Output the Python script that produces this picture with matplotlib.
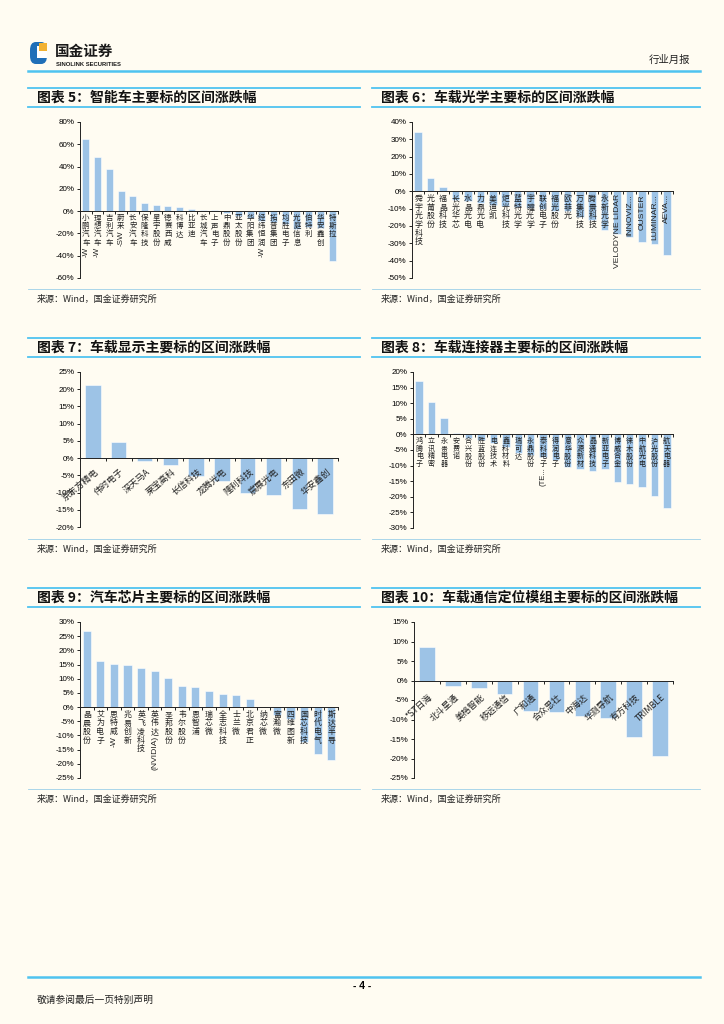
import numpy as np
import matplotlib
matplotlib.use('Agg')
import matplotlib.pyplot as plt
from matplotlib.patches import FancyBboxPatch, Rectangle

plt.rcParams['font.family'] = ['Noto Sans CJK SC', 'DejaVu Sans']

# ---- data (percent) ----
c5_names = ['小鹏汽车-W', '理想汽车-W', '吉利汽车', '蔚来-SW', '长安汽车', '保隆科技', '星宇股份',
            '德赛西威', '科博达', '比亚迪', '长城汽车', '上声电子', '中鼎股份', '亚太股份', '华阳集团',
            '经纬恒润-W', '拓普集团', '均胜电子', '光庭信息', '伯特利', '华安鑫创', '特斯拉']
c5_vals = [64.4, 49.0, 38.0, 17.7, 13.2, 7.5, 5.7, 4.2, 3.3, 1.5, 0.9, 0.6, -1.5, -4.8, -6.0,
           -8.4, -9.3, -11.4, -16.0, -14.0, -15.0, -45.0]

c6_names = ['舜宇光学科技', '光莆股份', '福晶科技', '长光华芯', '水晶光电', '力鼎光电', '美迪凯',
            '炬光科技', '蓝特光学', '宇瞳光学', '联创电子', '福光股份', '欧菲光', '万集科技', '腾景科技',
            '永新光学', 'VELODYNE LIDAR', 'INNOVIZ...', 'OUSTER', 'LUMINAR...', 'AEVA...']
c6_vals = [34.2, 7.7, 2.7, -5.0, -5.8, -7.0, -8.0, -8.7, -9.3, -9.7, -10.2, -11.2, -11.6, -15.0,
           -16.6, -22.4, -24.7, -26.3, -29.5, -30.5, -36.7]

c7_names = ['京东方精电', '伟时电子', '深天马A', '莱宝高科', '长信科技', '龙腾光电', '隆利科技',
            '宸展光电', '东田微', '华安鑫创']
c7_vals = [21.2, 4.8, -0.7, -1.9, -5.1, -6.5, -10.1, -10.7, -14.9, -16.2]

c8_names = ['鸿腾电子', '立讯精密', '永贵电器', '安费诺', '合兴股份', '胜蓝股份', '电连技术', '鑫科材料',
            '瑞可达', '永鼎股份', '泰科电子(TE...', '得润电子', '意华股份', '众源新材', '晶通科技',
            '新亚电子', '博威合金', '徕木股份', '中航光电', '沪光股份', '航天电器']
c8_vals = [17.0, 10.3, 5.4, 0.3, -1.1, -1.9, -2.6, -4.0, -6.1, -6.5, -7.2, -8.3, -10.4, -11.0,
           -11.8, -11.2, -15.3, -15.8, -16.7, -19.6, -23.5]

c9_names = ['晶晨股份', '艾为电子', '思特威-W', '兆易创新', '英飞凌科技', '英伟达(NVIDIA)', '圣邦股份',
            '韦尔股份', '恩智浦', '瑞芯微', '全志科技', '士兰微', '北京君正', '纳芯微', '富瀚微',
            '四维图新', '国芯科技', '时代电气', '斯达半导']
c9_vals = [26.7, 16.3, 15.2, 14.9, 13.7, 12.7, 10.2, 7.6, 7.0, 5.5, 4.6, 4.3, 2.7, -0.1, -2.8,
           -4.3, -12.3, -16.4, -18.5]

c10_names = ['*ST日海', '北斗星通', '美格智能', '移远通信', '广和通', '合众思壮', '中海达', '华测导航',
             '有方科技', 'TRIMBLE']
c10_vals = [8.7, -1.5, -2.0, -3.5, -7.7, -8.0, -9.1, -9.5, -14.4, -19.4]

titles = ['图表 5：智能车主要标的区间涨跌幅', '图表 6：车载光学主要标的区间涨跌幅',
          '图表 7：车载显示主要标的区间涨跌幅', '图表 8：车载连接器主要标的区间涨跌幅',
          '图表 9：汽车芯片主要标的区间涨跌幅', '图表 10：车载通信定位模组主要标的区间涨跌幅']

W, H = 724, 1024
BG = '#FFFCF2'
BAR = '#9DC3E6'
LINE = '#4FC3F0'
EN = ['Liberation Sans', 'Noto Sans CJK SC']

fig = plt.figure(figsize=(W / 100, H / 100), dpi=100, facecolor=BG)


def fx(x):
    return x / W


def fy(y):
    return 1 - y / H


def hline(y, x0, x1, color=LINE, lw=1.4):
    fig.add_artist(plt.Line2D([fx(x0), fx(x1)], [fy(y), fy(y)], color=color, lw=lw))


def make_ax(l, r, t, b):
    ax = fig.add_axes([fx(l), fy(b), (r - l) / W, (b - t) / H])
    ax.set_facecolor('none')
    return ax


def bars(ax, vals, lo, hi, step):
    n = len(vals)
    ax.bar(np.arange(n), vals, width=0.6, color=BAR, edgecolor='white', linewidth=0.4, zorder=2)
    ax.set_xlim(-0.5, n - 0.5)
    ax.set_ylim(lo, hi)
    ticks = np.arange(lo, hi + step / 2, step)
    ax.set_yticks(ticks)
    ax.set_yticklabels(['%d%%' % t for t in ticks], fontfamily=EN, fontsize=5.8)
    ax.spines['top'].set_visible(False)
    ax.spines['right'].set_visible(False)
    ax.spines['bottom'].set_position(('data', 0))
    for s in ['left', 'bottom']:
        ax.spines[s].set_linewidth(0.7)
        ax.spines[s].set_color('#222222')
    ax.set_xticks([])
    ax.set_xticks(np.arange(-0.5, n), minor=True)
    ax.tick_params(axis='x', which='minor', length=2, width=0.6, direction='out')
    ax.tick_params(axis='y', length=2.5, width=0.6, direction='out', pad=1.5)


def vlabels(ax, names, fs, step, top=2.0):
    for i, name in enumerate(names):
        k = 0
        while k < len(name) and ord(name[k]) > 0x2000:
            k += 1
        head, tail = name[:k], name[k:]
        if len(tail) == 1:
            head, tail = name, ''
        for j, ch in enumerate(head):
            ax.annotate(ch, (i, 0), xytext=(0, -top - j * step), textcoords='offset points',
                        ha='center', va='top', fontsize=fs, zorder=3, color='#222222')
        if tail:
            ax.annotate(tail, (i, 0), xytext=(0, -top - len(head) * step), textcoords='offset points',
                        ha='center', va='top', rotation=90, fontsize=fs + 0.4, fontfamily=EN,
                        zorder=3, color='#222222')


def dlabels(ax, names, fs, dy, rot):
    for i, name in enumerate(names):
        ax.annotate(name, (i, 0), xytext=(3, -dy), textcoords='offset points',
                    ha='right', va='center', rotation=rot, rotation_mode='anchor',
                    fontsize=fs, fontfamily=['Noto Sans CJK SC', 'Liberation Sans'], zorder=3,
                    color='#222222')


# ---- header ----
fig.add_artist(FancyBboxPatch((fx(30), fy(64)), 17 / W, 22 / H, boxstyle='round,pad=0,rounding_size=0.008',
                              transform=fig.transFigure, facecolor='#1F6FB8', edgecolor='none'))
fig.add_artist(Rectangle((fx(37), fy(58)), 10 / W, 12 / H, transform=fig.transFigure,
                         facecolor='white', edgecolor='none'))
fig.add_artist(Rectangle((fx(39), fy(51)), 8 / W, 8 / H, transform=fig.transFigure,
                         facecolor='#F2B233', edgecolor='none'))
fig.text(fx(55), fy(51), '国金证券', fontsize=10.5, fontweight='bold', color='#1a1a1a', va='center')
fig.text(fx(56), fy(64), 'SINOLINK SECURITIES', fontsize=4.2, fontweight='bold', color='#1a1a1a',
         va='center', fontfamily=EN)
fig.text(fx(690), fy(60), '行业月报', fontsize=7.5, ha='right', va='center', color='#222222')
hline(71, 28, 700, lw=1.8)

# ---- panels ----
panels = [
    (28, 360, 88, c5_names, c5_vals, -60, 80, 20, 'v', (5.4, 5.9), (80, 338, 122, 278)),
    (372, 700, 88, c6_names, c6_vals, -50, 40, 10, 'v', (5.7, 6.2), (412, 673, 122, 278)),
    (28, 360, 338, c7_names, c7_vals, -20, 25, 5, 'd', (6.4, 9, 40), (80, 338, 372, 527)),
    (372, 700, 338, c8_names, c8_vals, -30, 20, 5, 'v', (5.1, 5.5), (413, 673, 372, 528)),
    (28, 360, 588, c9_names, c9_vals, -25, 30, 5, 'v', (5.7, 6.2), (80, 338, 622, 778)),
    (372, 700, 588, c10_names, c10_vals, -25, 15, 5, 'd', (6.3, 11, 42), (414, 673, 622, 778)),
]

for k, (x0, x1, ty, names, vals, lo, hi, st, mode, lab, box) in enumerate(panels):
    hline(ty, x0, x1, lw=1.3)
    hline(ty + 19, x0, x1, lw=1.3)
    fig.text(fx(x0 + 9), fy(ty + 9.5), titles[k], fontsize=10, fontweight='bold', fontstyle='italic',
             va='center', color='#111111')
    hline(ty + 201, x0, x1, color='#9ccfe8', lw=0.6)
    fig.text(fx(x0 + 9), fy(ty + 211), '来源：Wind，国金证券研究所', fontsize=6.5, va='center', color='#222222')
    ax = make_ax(*box)
    bars(ax, vals, lo, hi, st)
    if mode == 'v':
        vlabels(ax, names, lab[0], lab[1])
    else:
        dlabels(ax, names, lab[0], lab[1], lab[2])

# ---- footer ----
hline(977, 28, 700, lw=1.8)
fig.text(fx(362), fy(986), '- 4 -', fontsize=7.5, fontweight='bold', ha='center', va='center', fontfamily=EN)
fig.text(fx(37), fy(1000), '敬请参阅最后一页特别声明', fontsize=7, va='center', color='#222222')

fig.savefig('out.png', dpi=100, facecolor=BG)
